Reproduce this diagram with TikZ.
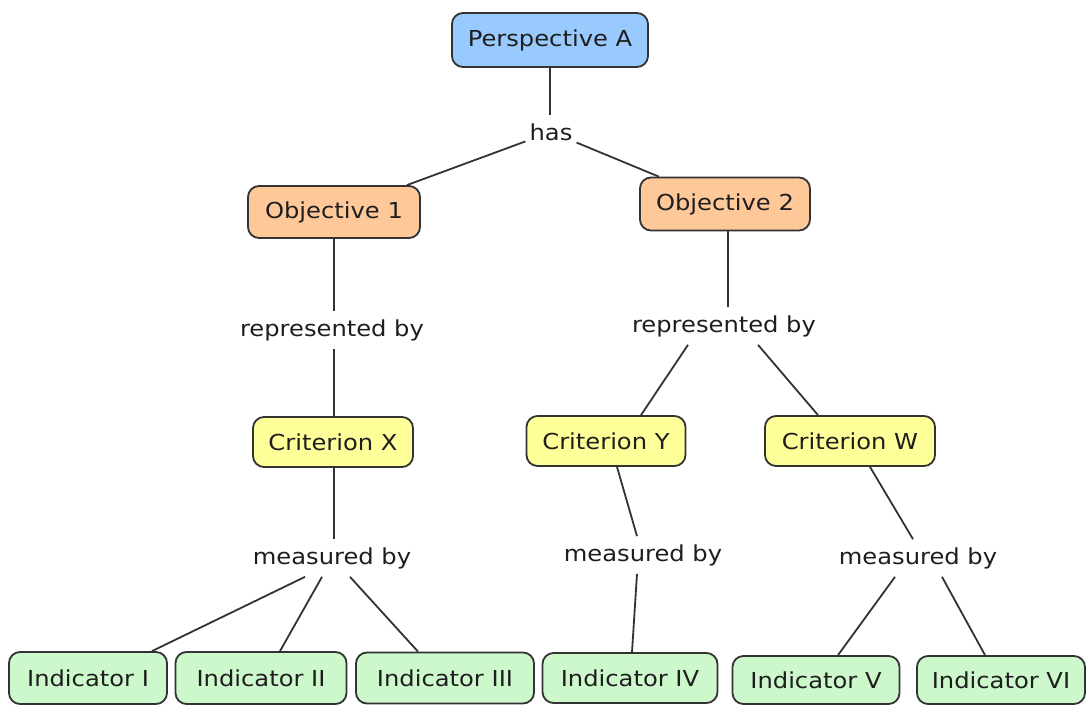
\documentclass[tikz,border=0pt]{standalone}
\usepackage{fontspec}
\setmainfont[FakeStretch=1.1]{DejaVu Sans}
\begin{document}
\begin{tikzpicture}[x=1pt,y=-1pt,
  box/.style={draw=boxline, line width=1.8pt, rounded corners=11pt,
    inner sep=0pt, text=txt, font=\fontsize{22}{26}\selectfont},
  persp/.style={box, fill=perspfill},
  objective/.style={box, fill=objfill},
  criterion/.style={box, fill=critfill},
  indicator/.style={box, fill=indfill},
  linklabel/.style={inner xsep=4pt, inner ysep=8pt, text=txt,
    font=\fontsize{22}{26}\selectfont},
  link/.style={draw=linkcol, line width=1.8pt}]
\definecolor{boxline}{HTML}{333333}
\definecolor{linkcol}{HTML}{333333}
\definecolor{txt}{HTML}{1E1E1E}
\definecolor{perspfill}{HTML}{99CAFF}
\definecolor{objfill}{HTML}{FFC899}
\definecolor{critfill}{HTML}{FFFF99}
\definecolor{indfill}{HTML}{CCF8CC}

\useasboundingbox[fill=white] (0,0) rectangle (1088,705);

% concept boxes
\node[persp, minimum width=196pt, minimum height=54pt] (pa) at (550,40) {Perspective A};
\node[objective, minimum width=172pt, minimum height=52pt] (o1) at (334,212) {Objective 1};
\node[objective, minimum width=170pt, minimum height=53pt] (o2) at (725,204) {Objective 2};
\node[criterion, minimum width=160pt, minimum height=50pt] (cx) at (333,442) {Criterion X};
\node[criterion, minimum width=159pt, minimum height=50pt] (cy) at (606,441) {Criterion Y};
\node[criterion, minimum width=170pt, minimum height=50pt] (cw) at (850,441) {Criterion W};
\node[indicator, minimum width=158pt, minimum height=52pt] (i1) at (88,678) {Indicator I};
\node[indicator, minimum width=171pt, minimum height=52pt] (i2) at (261,678) {Indicator II};
\node[indicator, minimum width=178pt, minimum height=51pt] (i3) at (445,678) {Indicator III};
\node[indicator, minimum width=175pt, minimum height=50pt] (i4) at (630,678) {Indicator IV};
\node[indicator, minimum width=167pt, minimum height=48pt] (i5) at (816,680) {Indicator V};
\node[indicator, minimum width=168pt, minimum height=48pt] (i6) at (1001,680) {Indicator VI};

% linking phrases
\node[linklabel] (has) at (551,132) {has};
\node[linklabel] (rl) at (332,330) {represented by};
\node[linklabel] (rr) at (724,326) {represented by};
\node[linklabel] (ml) at (332,558) {measured by};
\node[linklabel] (mm) at (643,555) {measured by};
\node[linklabel] (mr) at (918,558) {measured by};

% connectors
\draw[link] (pa.south) -- (pa.south |- has.north);
\draw[link] (has) -- (o1);
\draw[link] (has) -- (o2);
\draw[link] (o1.south) -- (o1.south |- rl.north);
\draw[link] (o1.south |- rl.south) -- (o1.south |- cx.north);
\draw[link] ([xshift=3pt]o2.south) -- ([xshift=3pt]o2.south |- rr.north);
\draw[link] ([xshift=-36pt]rr.south) -- ([xshift=35pt]cy.north);
\draw[link] ([xshift=34pt]rr.south) -- ([xshift=-32pt]cw.north);
\draw[link] ([xshift=1pt]cx.south) -- ([xshift=1pt]cx.south |- ml.north);
\draw[link] ([xshift=-27pt]ml.south) -- ([xshift=64pt]i1.north);
\draw[link] ([xshift=-10pt]ml.south) -- ([xshift=19pt]i2.north);
\draw[link] ([xshift=18pt]ml.south) -- ([xshift=-27pt]i3.north);
\draw[link] ([xshift=11pt]cy.south) -- ([xshift=-6pt]mm.north);
\draw[link] ([xshift=-6pt]mm.south) -- ([xshift=2pt]i4.north);
\draw[link] ([xshift=20pt]cw.south) -- ([xshift=-5pt]mr.north);
\draw[link] ([xshift=-23pt]mr.south) -- ([xshift=22pt]i5.north);
\draw[link] ([xshift=24pt]mr.south) -- ([xshift=-16pt]i6.north);
\end{tikzpicture}
\end{document}
